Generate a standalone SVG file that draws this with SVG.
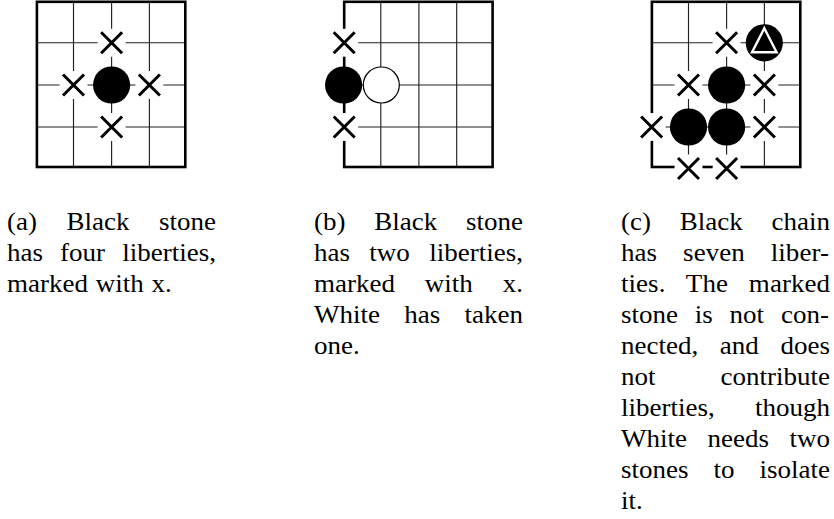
<svg xmlns="http://www.w3.org/2000/svg" xmlns:xlink="http://www.w3.org/1999/xlink" width="834" height="519" viewBox="0 0 834 519">
<style>
.grid{stroke:#222;stroke-width:1.15;fill:none}
.frame{stroke:#000;stroke-width:2.6;fill:none;stroke-linejoin:miter}
.blk{fill:#000}
.wht{fill:#fff;stroke:#000;stroke-width:1.2}
.cap{font-family:"Liberation Serif","Times New Roman","DejaVu Serif",serif;font-size:25px;fill:#000}
</style>
<defs>
<g id="grid">
<path class="grid" d="M73.5,1.8V167M111.6,1.8V167M149.4,1.8V167M36.9,42.7H185.3M36.9,85H185.3M36.9,127H185.3"/>
<rect class="frame" x="36.9" y="1.8" width="148.4" height="165.2"/>
</g>
<g id="xm">
<circle r="14" fill="#fff"/>
<path d="M-10.5,-10.5L10.5,10.5M10.5,-10.5L-10.5,10.5" stroke="#000" stroke-width="3" fill="none"/>
</g>
</defs>
<rect width="834" height="519" fill="#fff"/>

<g id="board-a">
<use xlink:href="#grid"/>
<use xlink:href="#xm" x="111.6" y="42.7"/>
<use xlink:href="#xm" x="73.5" y="85"/>
<use xlink:href="#xm" x="149.4" y="85"/>
<use xlink:href="#xm" x="111.6" y="127"/>
<circle class="blk" cx="111.6" cy="85" r="18.6"/>
</g>

<g id="board-b">
<use xlink:href="#grid" x="307.3"/>
<use xlink:href="#xm" x="344.2" y="42.7"/>
<use xlink:href="#xm" x="344.2" y="127"/>
<circle class="blk" cx="343.6" cy="85" r="18.6"/>
<circle class="wht" cx="381.3" cy="85" r="18"/>
</g>

<g id="board-c">
<use xlink:href="#grid" x="615"/>
<use xlink:href="#xm" x="726.6" y="42.7"/>
<use xlink:href="#xm" x="688.5" y="85"/>
<use xlink:href="#xm" x="764.4" y="85"/>
<use xlink:href="#xm" x="651.6" y="127"/>
<use xlink:href="#xm" x="764.4" y="127"/>
<use xlink:href="#xm" x="688.5" y="168.5"/>
<use xlink:href="#xm" x="726.6" y="168.5"/>
<circle class="blk" cx="726.6" cy="85" r="18.6"/>
<circle class="blk" cx="688.5" cy="127" r="18.6"/>
<circle class="blk" cx="726.6" cy="127" r="18.6"/>
<g id="marked-stone">
<circle class="blk" cx="764.3" cy="42.8" r="18.6"/>
<path d="M764.3,28.2L776.6,52.2H752Z" fill="none" stroke="#fff" stroke-width="2.4" stroke-linejoin="miter"/>
</g>
</g>

<g id="caption-a" class="cap" transform="translate(7,0) scale(1.08,1)">
<text x="0" y="230" word-spacing="21.1" textLength="193.5" lengthAdjust="spacing">(a) Black stone</text>
<text x="0" y="261" word-spacing="9.6" textLength="193.5" lengthAdjust="spacing">has four liberties,</text>
<text x="0" y="292" word-spacing="1">marked with x.</text>
</g>

<g id="caption-b" class="cap" transform="translate(314,0) scale(1.08,1)">
<text x="0" y="230" word-spacing="20.4" textLength="193.5" lengthAdjust="spacing">(b) Black stone</text>
<text x="0" y="261" word-spacing="11.7" textLength="193.5" lengthAdjust="spacing">has two liberties,</text>
<text x="0" y="292" word-spacing="21.4" textLength="193.5" lengthAdjust="spacing">marked with x.</text>
<text x="0" y="323" word-spacing="16.2" textLength="193.5" lengthAdjust="spacing">White has taken</text>
<text x="0" y="354">one.</text>
</g>

<g id="caption-c" class="cap" transform="translate(621,0) scale(1.08,1)">
<text x="0" y="230" word-spacing="20.4" textLength="193.5" lengthAdjust="spacing">(c) Black chain</text>
<text x="0" y="261" word-spacing="17.8" textLength="192.5" lengthAdjust="spacing">has seven liber-</text>
<text x="0" y="292" word-spacing="13.1" textLength="193.5" lengthAdjust="spacing">ties. The marked</text>
<text x="0" y="323" word-spacing="9.3" textLength="192.5" lengthAdjust="spacing">stone is not con-</text>
<text x="0" y="354" word-spacing="13.8" textLength="193.5" lengthAdjust="spacing">nected, and does</text>
<text x="0" y="385" word-spacing="54" textLength="193.5" lengthAdjust="spacing">not contribute</text>
<text x="0" y="416" word-spacing="31" textLength="193.5" lengthAdjust="spacing">liberties, though</text>
<text x="0" y="447" word-spacing="12.75" textLength="193.5" lengthAdjust="spacing">White needs two</text>
<text x="0" y="478" word-spacing="16.9" textLength="193.5" lengthAdjust="spacing">stones to isolate</text>
<text x="0" y="509">it.</text>
</g>
</svg>
